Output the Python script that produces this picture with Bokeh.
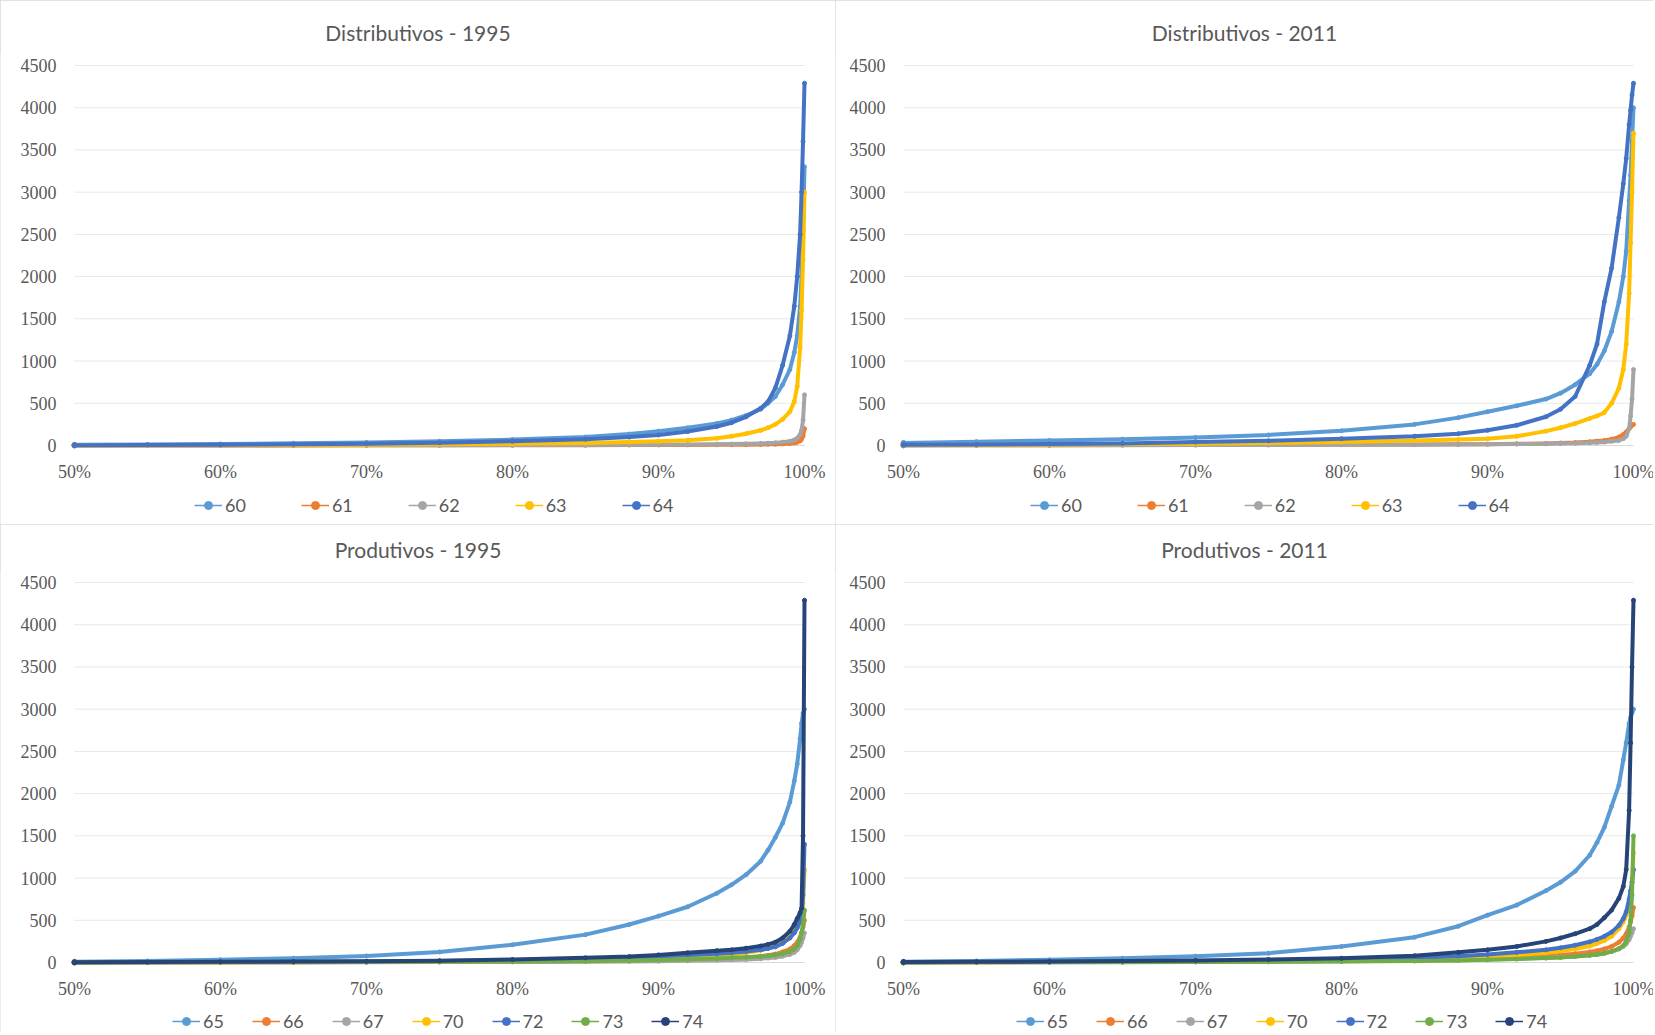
from bokeh.plotting import figure
from bokeh.models import Range1d, Legend, LegendItem, LabelSet, ColumnDataSource
from bokeh.layouts import column, row
from bokeh.embed import file_html
from bokeh.resources import INLINE

# cumulative share (x axis)
X = [0.50, 0.55, 0.60, 0.65, 0.70, 0.75, 0.80, 0.85, 0.88, 0.90, 0.92, 0.94, 0.95,
     0.96, 0.97, 0.975, 0.98, 0.985, 0.99, 0.993, 0.995, 0.997, 0.998, 0.999, 1.0]

X_TICKS = [0.5, 0.6, 0.7, 0.8, 0.9, 1.0]
X_LABELS = ["50%", "60%", "70%", "80%", "90%", "100%"]
Y_TICKS = [0, 500, 1000, 1500, 2000, 2500, 3000, 3500, 4000, 4500]
Y_LABELS = ["0", "500", "1000", "1500", "2000", "2500", "3000", "3500", "4000", "4500"]

# Distributivos - 1995
d95_60 = [8, 12, 18, 26, 36, 50, 70, 100, 135, 170, 210, 260, 300, 355, 430, 500, 580, 720, 900, 1100, 1300, 1650, 2000, 2550, 3300]
d95_61 = [0, 0, 1, 1, 2, 2, 3, 4, 5, 6, 7, 8, 9, 10, 12, 14, 16, 19, 24, 30, 38, 55, 75, 110, 200]
d95_62 = [0, 1, 1, 2, 3, 4, 5, 7, 9, 10, 12, 15, 17, 20, 25, 28, 32, 40, 50, 65, 85, 130, 180, 300, 600]
d95_63 = [2, 3, 5, 7, 10, 14, 20, 30, 40, 50, 62, 85, 110, 140, 180, 210, 250, 310, 400, 520, 700, 1160, 1600, 2200, 3000]
d95_64 = [4, 7, 10, 15, 22, 32, 50, 75, 100, 125, 165, 225, 270, 340, 440, 520, 680, 950, 1300, 1650, 2000, 2500, 3000, 3600, 4290]

# Distributivos - 2011
d11_60 = [30, 45, 60, 75, 95, 125, 175, 250, 330, 400, 470, 550, 620, 720, 850, 960, 1120, 1350, 1700, 2000, 2300, 2900, 3200, 3600, 4000]
d11_61 = [2, 3, 4, 5, 6, 8, 10, 12, 14, 16, 20, 25, 30, 35, 45, 52, 60, 75, 100, 130, 160, 200, 220, 240, 250]
d11_62 = [1, 2, 3, 4, 5, 6, 8, 10, 12, 14, 17, 20, 23, 27, 32, 36, 40, 50, 60, 80, 110, 200, 350, 550, 900]
d11_63 = [5, 8, 12, 16, 22, 30, 42, 58, 70, 80, 110, 170, 210, 260, 320, 350, 390, 500, 680, 900, 1200, 1800, 2400, 3000, 3700]
d11_64 = [8, 12, 18, 25, 40, 55, 80, 110, 140, 180, 240, 340, 430, 580, 950, 1200, 1700, 2100, 2700, 3100, 3400, 3800, 3970, 4150, 4290]

# Produtivos - 1995
p95_65 = [8, 18, 32, 50, 78, 125, 210, 330, 450, 550, 660, 820, 920, 1040, 1200, 1330, 1480, 1650, 1900, 2150, 2350, 2650, 2830, 2950, 3000]
p95_66 = [1, 2, 3, 4, 5, 7, 10, 15, 20, 25, 32, 42, 50, 60, 75, 85, 100, 125, 160, 200, 240, 300, 350, 420, 500]
p95_67 = [0, 1, 2, 3, 4, 5, 7, 10, 13, 16, 20, 26, 30, 36, 45, 52, 60, 75, 95, 120, 150, 200, 240, 290, 350]
p95_70 = [1, 2, 4, 6, 8, 12, 18, 28, 38, 48, 60, 80, 95, 115, 145, 170, 200, 250, 320, 380, 430, 480, 520, 700, 1100]
p95_72 = [2, 4, 6, 9, 12, 17, 27, 42, 55, 70, 88, 105, 115, 130, 150, 165, 185, 225, 290, 350, 410, 480, 530, 800, 1400]
p95_73 = [1, 2, 3, 4, 6, 8, 12, 18, 24, 30, 38, 48, 55, 62, 72, 80, 90, 105, 130, 160, 200, 280, 350, 450, 620]
p95_74 = [3, 5, 8, 11, 15, 22, 35, 55, 70, 90, 115, 140, 150, 170, 195, 215, 240, 290, 370, 450, 520, 590, 640, 1500, 4290]

# Produtivos - 2011
p11_65 = [8, 18, 32, 50, 75, 110, 190, 300, 430, 560, 680, 850, 950, 1080, 1270, 1420, 1600, 1850, 2100, 2400, 2600, 2830, 2900, 2960, 3000]
p11_66 = [2, 3, 5, 7, 10, 14, 20, 30, 40, 50, 62, 78, 90, 105, 125, 140, 160, 190, 240, 290, 340, 420, 480, 550, 650]
p11_67 = [1, 2, 3, 5, 7, 10, 14, 20, 27, 35, 44, 55, 63, 72, 85, 95, 110, 130, 160, 190, 220, 270, 310, 350, 400]
p11_70 = [2, 4, 6, 9, 13, 18, 26, 40, 55, 70, 90, 115, 135, 160, 195, 225, 260, 310, 400, 480, 560, 700, 800, 950, 1300]
p11_72 = [3, 6, 9, 13, 18, 25, 35, 55, 75, 95, 120, 150, 175, 205, 245, 275, 310, 360, 440, 520, 600, 750, 850, 950, 1100]
p11_73 = [1, 2, 3, 4, 6, 8, 12, 18, 25, 32, 40, 52, 60, 70, 85, 95, 110, 130, 165, 200, 250, 350, 500, 800, 1500]
p11_74 = [5, 8, 12, 17, 25, 35, 50, 80, 120, 150, 190, 250, 290, 340, 400, 450, 530, 620, 760, 900, 1100, 1800, 2600, 3500, 4290]

COLORS = {"60": "#5B9BD5", "61": "#ED7D31", "62": "#A5A5A5", "63": "#FFC000", "64": "#4472C4",
          "65": "#5B9BD5", "66": "#ED7D31", "67": "#A5A5A5", "70": "#FFC000", "72": "#4472C4",
          "73": "#70AD47", "74": "#264478"}

FONT = "Lato"
TXT = "#595959"
PLOT_W = 730     # px from 50% to 100%
PLOT_H = 380     # px from 0 to 4500
TOP_PAD = 12     # px of frame above the 4500 line
TICK_GAP = 26    # px between zero line and x tick labels
YLAB_GAP = 18    # px between y tick labels and the 50% edge


def make_panel(title, series, width, height, top, pad_left, spacing, legend_pos):
    ppx = (X_TICKS[-1] - X_TICKS[0]) / PLOT_W
    ppy = (Y_TICKS[-1] - Y_TICKS[0]) / PLOT_H
    x_lo = X_TICKS[0] - pad_left * ppx
    x_hi = x_lo + width * ppx
    frame_h = height - top
    y_hi = Y_TICKS[-1] + TOP_PAD * ppy
    y_lo = y_hi - frame_h * ppy
    p = figure(frame_width=width, frame_height=frame_h,
               x_range=Range1d(x_lo, x_hi), y_range=Range1d(y_lo, y_hi),
               output_backend="svg", toolbar_location=None, title=title,
               min_border_top=top, min_border_bottom=0,
               min_border_left=0, min_border_right=0,
               styles={"outline": "1px solid #D9D9D9", "outline-offset": "-1px"})
    p.outline_line_color = None
    p.axis.visible = False
    p.grid.visible = False
    p.title.align = "center"
    p.title.standoff = 18
    p.title.text_font = FONT
    p.title.text_font_size = "21px"
    p.title.text_font_style = "normal"
    p.title.text_color = TXT

    n = len(Y_TICKS)
    # horizontal gridlines across the plot area
    p.segment(x0=[X_TICKS[0]] * n, x1=[X_TICKS[-1]] * n, y0=Y_TICKS, y1=Y_TICKS,
              line_color="#E8E8E8", line_width=1)
    p.segment(x0=[X_TICKS[0]], x1=[X_TICKS[-1]], y0=[Y_TICKS[0]], y1=[Y_TICKS[0]],
              line_color="#D9D9D9", line_width=1)

    # tick labels
    ysrc = ColumnDataSource(dict(x=[X_TICKS[0] - YLAB_GAP * ppx] * n, y=Y_TICKS, t=Y_LABELS))
    p.add_layout(LabelSet(x="x", y="y", text="t", source=ysrc, text_align="right",
                          text_baseline="middle", text_font=FONT, text_font_size="18px",
                          text_color=TXT))
    xsrc = ColumnDataSource(dict(x=X_TICKS, y=[Y_TICKS[0] - TICK_GAP * ppy] * len(X_TICKS), t=X_LABELS))
    p.add_layout(LabelSet(x="x", y="y", text="t", source=xsrc, text_align="center",
                          text_baseline="middle", text_font=FONT, text_font_size="18px",
                          text_color=TXT))

    items = []
    for name, vals in series:
        c = COLORS[name]
        p.line(X, vals, line_color=c, line_width=4, line_join="round")
        p.scatter(X, vals, marker="circle", size=4, fill_color=c, line_color=c)
        # legend swatch: thin line with a small marker (one-point proxies)
        lr = p.line(X[:1], vals[:1], line_color=c, line_width=1.5)
        sr = p.scatter(X[:1], vals[:1], marker="circle", size=5, fill_color=c, line_color=c)
        items.append(LegendItem(label=name, renderers=[lr, sr]))
    leg = Legend(items=items, orientation="horizontal", location=legend_pos,
                 border_line_color=None, background_fill_alpha=0,
                 label_text_font=FONT, label_text_font_size="18px", label_text_color=TXT,
                 glyph_width=28, label_standoff=3, spacing=spacing, padding=0, margin=0)
    p.add_layout(leg, "center")
    return p


p1 = make_panel("Distributivos - 1995",
                [("60", d95_60), ("61", d95_61), ("62", d95_62), ("63", d95_63), ("64", d95_64)],
                835, 524, 53, 74, 55, (194, 8))
p2 = make_panel("Distributivos - 2011",
                [("60", d11_60), ("61", d11_61), ("62", d11_62), ("63", d11_63), ("64", d11_64)],
                818, 524, 53, 68, 55, (195, 8))
p3 = make_panel("Produtivos - 1995",
                [("65", p95_65), ("66", p95_66), ("67", p95_67), ("70", p95_70),
                 ("72", p95_72), ("73", p95_73), ("74", p95_74)],
                835, 508, 46, 74, 28, (172, 0))
p4 = make_panel("Produtivos - 2011",
                [("65", p11_65), ("66", p11_66), ("67", p11_67), ("70", p11_70),
                 ("72", p11_72), ("73", p11_73), ("74", p11_74)],
                818, 508, 46, 68, 28, (181, 0))

layout = column(row(p1, p2), row(p3, p4))
open("out.html", "w").write(file_html(layout, INLINE))
